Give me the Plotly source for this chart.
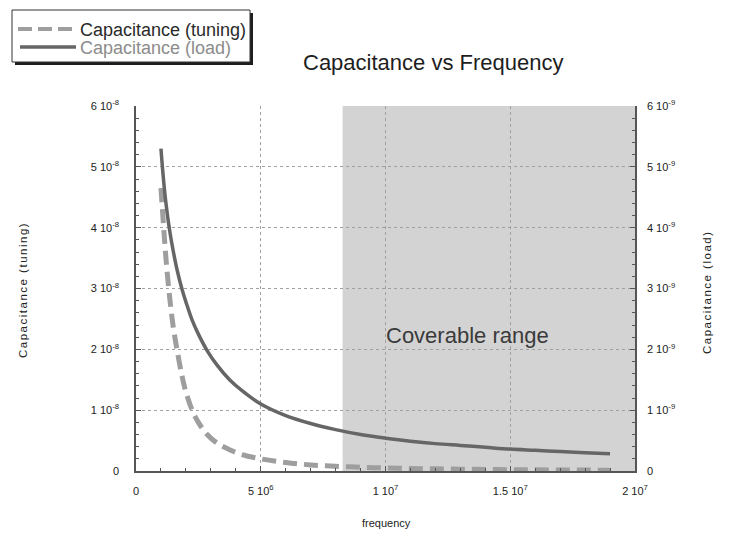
import plotly.graph_objects as go

# frequency samples (Hz)
freq = [1.0e6, 1.1e6, 1.2e6, 1.35e6, 1.5e6, 1.65e6, 1.85e6, 2.0e6, 2.25e6, 2.5e6,
        2.85e6, 3.25e6, 3.75e6, 4.25e6, 5.0e6, 6.0e6, 7.0e6, 8.0e6, 9.0e6, 10e6,
        11e6, 12e6, 13e6, 14e6, 15e6, 16e6, 17e6, 18e6, 19e6]
# Capacitance (tuning), left axis (F)
cap_tuning = [4.65e-8, 4.05e-8, 3.5e-8, 2.85e-8, 2.35e-8, 1.98e-8, 1.55e-8, 1.3e-8, 1.0e-8, 0.8e-8,
              0.6e-8, 0.46e-8, 0.35e-8, 0.27e-8, 0.2e-8, 0.14e-8, 0.1e-8, 0.078e-8, 0.062e-8, 0.05e-8,
              0.041e-8, 0.035e-8, 0.03e-8, 0.025e-8, 0.022e-8, 0.02e-8, 0.017e-8, 0.015e-8, 0.014e-8]
# Capacitance (load), right axis (F)
cap_load = [5.3e-9, 4.8e-9, 4.4e-9, 3.95e-9, 3.6e-9, 3.3e-9, 2.98e-9, 2.78e-9, 2.48e-9, 2.25e-9,
            1.98e-9, 1.74e-9, 1.5e-9, 1.32e-9, 1.1e-9, 0.91e-9, 0.78e-9, 0.68e-9, 0.6e-9, 0.54e-9,
            0.49e-9, 0.45e-9, 0.42e-9, 0.39e-9, 0.36e-9, 0.34e-9, 0.32e-9, 0.3e-9, 0.285e-9]

coverable_start = 8.28e6
coverable_end = 2.0e7

x_tickvals = [0, 5e6, 1e7, 1.5e7, 2e7]
x_ticktext = ["0", "5 10<sup>6</sup>", "1 10<sup>7</sup>", "1.5 10<sup>7</sup>", "2 10<sup>7</sup>"]
yl_tickvals = [0, 1e-8, 2e-8, 3e-8, 4e-8, 5e-8, 6e-8]
yl_ticktext = ["0"] + [f"{i} 10<sup>-8</sup>" for i in range(1, 7)]
yr_tickvals = [0, 1e-9, 2e-9, 3e-9, 4e-9, 5e-9, 6e-9]
yr_ticktext = ["0"] + [f"{i} 10<sup>-9</sup>" for i in range(1, 7)]

tuning_color = "#9e9e9e"
load_color = "#666666"

# page has an 8px body margin: figure is 721x528 drawn at (8,8)
OFF = 8
L, T = 128, 98
W, H = 721, 528
PW, PH = 499, 365
R, B = W - L - PW, H - T - PH


def px(x):
    return (x - OFF - L) / PW


def py(y):
    return (H - B - (y - OFF)) / PH


FONT = "Liberation Sans, Arial, sans-serif"

fig = go.Figure()
fig.add_trace(go.Scatter(x=freq, y=cap_tuning, mode="lines", name="Capacitance (tuning)",
                         line=dict(color=tuning_color, width=5, dash="14px,7px", shape="spline"),
                         yaxis="y"))
fig.add_trace(go.Scatter(x=freq, y=cap_load, mode="lines", name="Capacitance (load)",
                         line=dict(color=load_color, width=3.5, shape="spline"), yaxis="y2"))

fig.add_shape(type="rect", xref="x", yref="paper", x0=coverable_start, x1=coverable_end,
              y0=0, y1=1, fillcolor="#d3d3d3", line=dict(width=0), layer="below")

# manual legend: shadow, box, sample lines
fig.add_shape(type="rect", xref="paper", yref="paper", x0=px(15), x1=px(253), y0=py(65), y1=py(13),
              fillcolor="#1e1e1e", line=dict(width=0))
fig.add_shape(type="rect", xref="paper", yref="paper", x0=px(12), x1=px(250), y0=py(62), y1=py(10),
              fillcolor="white", line=dict(color="#333333", width=1))
fig.add_shape(type="line", xref="paper", yref="paper", x0=px(18), x1=px(77), y0=py(29), y1=py(29),
              line=dict(color=tuning_color, width=4, dash="14px,6px"))
fig.add_shape(type="line", xref="paper", yref="paper", x0=px(20), x1=px(76), y0=py(47), y1=py(47),
              line=dict(color=load_color, width=3.5))

axis_font = dict(family=FONT, size=11, color="#222222")
common = dict(showline=True, linecolor="#555555", linewidth=1.5, ticks="inside", ticklen=5,
              tickcolor="#555555", showgrid=True, gridcolor="#a0a0a0", griddash="dot",
              gridwidth=1, zeroline=False, tickfont=axis_font)


def ann(text, x, y, size, color="#222222", angle=0, xanchor="center"):
    return dict(text=text, xref="paper", yref="paper", x=px(x), y=py(y), showarrow=False,
                xanchor=xanchor, yanchor="middle", textangle=angle,
                font=dict(family=FONT, size=size, color=color))


fig.update_layout(
    width=W, height=H,
    margin=dict(l=L, r=R, t=T, b=B, autoexpand=False),
    paper_bgcolor="white", plot_bgcolor="white",
    showlegend=False,
    xaxis=dict(range=[0, 2e7], tickvals=x_tickvals, ticktext=x_ticktext, ticklabelstandoff=9,
               minor=dict(dtick=1e6, ticks="inside", ticklen=3, tickcolor="#555555", showgrid=False),
               **common),
    yaxis=dict(range=[0, 6e-8], tickvals=yl_tickvals, ticktext=yl_ticktext, ticklabelstandoff=13,
               minor=dict(dtick=2e-9, ticks="inside", ticklen=3, tickcolor="#555555", showgrid=False),
               **common),
    yaxis2=dict(range=[0, 6e-9], tickvals=yr_tickvals, ticktext=yr_ticktext, overlaying="y",
                side="right", showline=True, linecolor="#555555", linewidth=1.5, ticks="inside",
                ticklen=5, tickcolor="#555555", showgrid=False, zeroline=False, tickfont=axis_font,
                ticklabelstandoff=8,
                minor=dict(dtick=2e-10, ticks="inside", ticklen=3, tickcolor="#555555")),
    annotations=[
        ann("Capacitance (tuning)", 78, 30, 18, "#2a2a2a", xanchor="left"),
        ann("Capacitance (load)", 78, 48, 18, "#8c8c8c", xanchor="left"),
        ann("Capacitance vs Frequency", 433, 62, 22, "#1e1e1e"),
        dict(text="Coverable range", xref="x", yref="y", x=1.33e7, y=2.23e-8, showarrow=False,
             xanchor="center", yanchor="middle",
             font=dict(family=FONT, size=22, color="#3a3a3a")),
        ann("frequency", 386, 523, 11),
        ann("<span style='letter-spacing:1.5px'>Capacitance (tuning)</span>", 23, 290, 11.5, angle=-90),
        ann("<span style='letter-spacing:1.5px'>Capacitance (load)</span>", 707, 292, 11.5, angle=-90),
    ],
)

fig.write_html("out.html")
